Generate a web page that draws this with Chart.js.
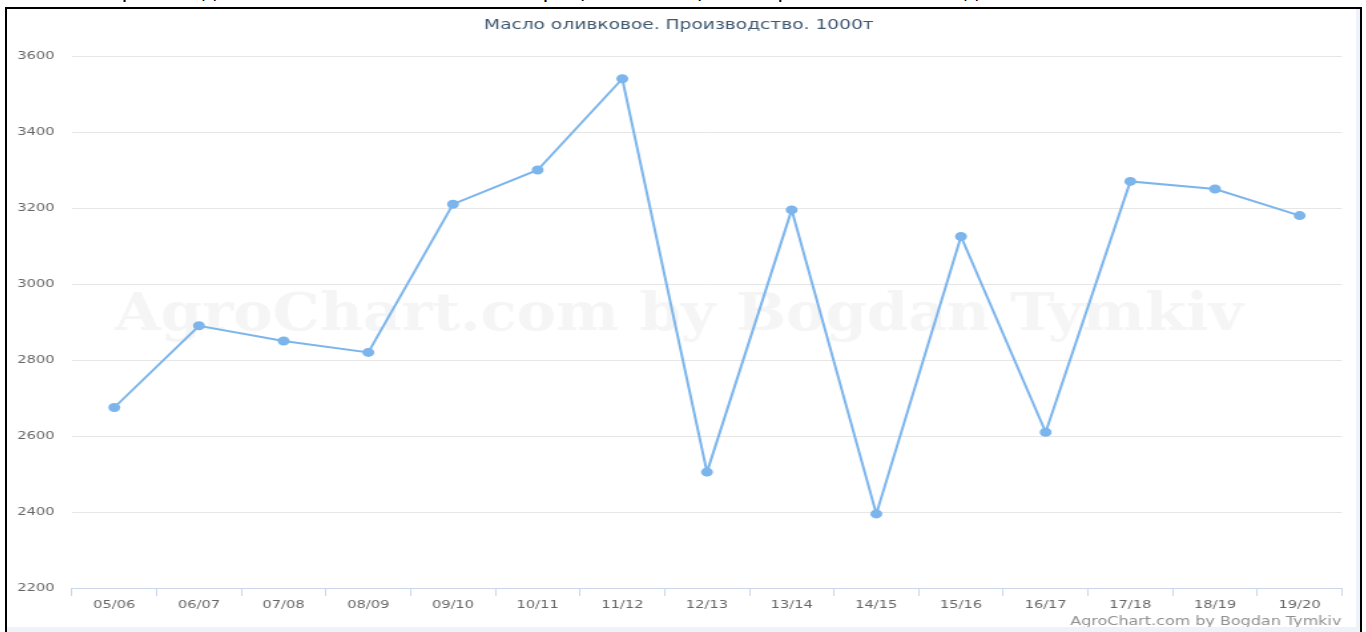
<!DOCTYPE html>
<html>
<head>
<meta charset="utf-8">
<script src="https://cdn.jsdelivr.net/npm/chart.js@4"></script>
<style>
  body { margin: 0; background: #fff; overflow: hidden; font-family: "DejaVu Sans", sans-serif; }
  #topText { position: absolute; left: 105px; top: -22px; font-size: 22px; color: #000; white-space: nowrap; }
  #box { position: absolute; left: 5px; top: 7px; width: 1353px; height: 640px; border: 2px solid #000; background: #eef3fa; }
  #chart { position: absolute; left: 0; top: 0; background: #fff; }
</style>
</head>
<body>
<div id="topText">Производство оливкового масла в мире (тыс. тонн) по маркетинговым годам</div>
<div id="box">
  <canvas id="chart" width="1014" height="618" style="width: 1349px; height: 618px;"></canvas>
</div>
<script>
const seasons = ['05/06', '06/07', '07/08', '08/09', '09/10', '10/11', '11/12', '12/13', '13/14', '14/15', '15/16', '16/17', '17/18', '18/19', '19/20'];
const production = [2675, 2890, 2850, 2820, 3210, 3300, 3540, 2505, 3195, 2395, 3125, 2610, 3270, 3250, 3180];
const yMin = 2200;
const yMax = 3600;
const yStep = 200;

const titleText = 'Масло оливковое. Производство. 1000т';
const creditText = 'AgroChart.com by Bogdan Tymkiv';

// title, credits and the faint watermark
const decorations = {
  id: 'decorations',
  beforeDatasetsDraw: (chart) => {
    const ctx = chart.ctx;
    ctx.save();
    ctx.font = 'bold 52px "DejaVu Serif"';
    const w = ctx.measureText(creditText).width;
    ctx.translate(505, 307);
    ctx.scale(848 / w, 1);
    ctx.fillStyle = '#f5f5f5';
    ctx.textAlign = 'center';
    ctx.textBaseline = 'middle';
    ctx.fillText(creditText, 0, 0);
    ctx.restore();
  },
  afterDraw: (chart) => {
    const ctx = chart.ctx;
    ctx.save();
    ctx.textBaseline = 'middle';
    ctx.font = '14px "DejaVu Sans"';
    ctx.fillStyle = '#3e576f';
    ctx.textAlign = 'center';
    ctx.fillText(titleText, 505, 16);
    ctx.font = '12px "DejaVu Sans"';
    ctx.fillStyle = '#909090';
    ctx.textAlign = 'right';
    ctx.fillText(creditText, 1003, 613);
    ctx.restore();
  },
};

new Chart('chart', {
  type: 'line',
  data: {
    labels: seasons,
    datasets: [
      {
        data: production,
        borderColor: '#7cb5ec',
        backgroundColor: '#7cb5ec',
        borderWidth: 2,
        pointRadius: 3.5,
        pointHoverRadius: 3.5,
        tension: 0,
        fill: false,
      },
    ],
  },
  options: {
    responsive: false,
    devicePixelRatio: 1,
    animation: false,
    layout: {
      padding: { top: 47, right: 10.5, bottom: 0, left: 0 },
    },
    plugins: {
      legend: { display: false },
      tooltip: { enabled: false },
    },
    scales: {
      x: {
        offset: true,
        grid: {
          offset: true,
          drawOnChartArea: false,
          drawTicks: true,
          tickLength: 8,
          color: '#ccd6eb',
        },
        border: { display: true, color: '#ccd6eb', width: 1 },
        ticks: {
          color: '#666666',
          font: { family: 'DejaVu Sans', size: 11 },
          padding: 3,
          maxRotation: 0,
          autoSkip: false,
        },
        afterFit: (scale) => {
          scale.height = 39;
        },
      },
      y: {
        min: yMin,
        max: yMax,
        ticks: {
          stepSize: yStep,
          color: '#666666',
          font: { family: 'DejaVu Sans', size: 11 },
          padding: 13,
          callback: (value) => String(value),
        },
        grid: {
          color: '#e6e6e6',
          drawTicks: false,
        },
        border: { display: false },
        afterFit: (scale) => {
          scale.width = 48.86;
        },
      },
    },
  },
  plugins: [decorations],
});
</script>
</body>
</html>
